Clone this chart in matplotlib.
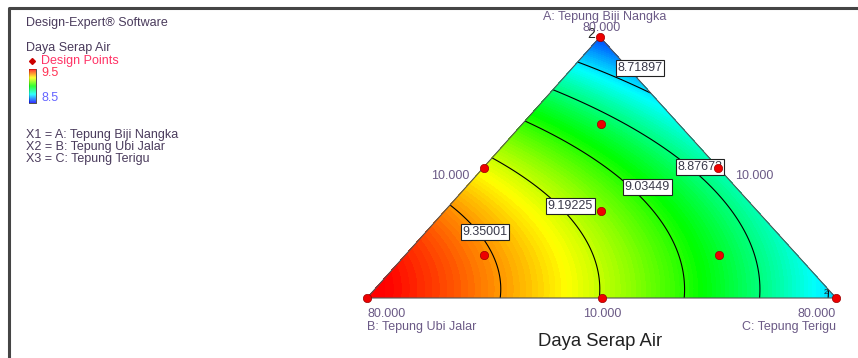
import matplotlib
matplotlib.use("Agg")
import matplotlib.pyplot as plt
import matplotlib.tri as mtri
from matplotlib.colors import LinearSegmentedColormap
import numpy as np

plt.rcParams['font.family'] = ['Liberation Sans', 'DejaVu Sans']

# component ranges (actual units)
low = 10.0
span = 70.0

# fitted Scheffe quadratic (pseudo components)
coef_lin = [8.562, 9.517, 8.700]      # A, B, C
coef_int = [0.756, 0.754, 0.320]      # AB, AC, BC

levels = [8.71897, 8.87673, 9.03449, 9.19225, 9.35001]
level_pos = [(640, 68), (700, 167), (647, 187), (570, 206), (485, 232)]

# design points (actual units)
pts_A = [80, 10, 10, 45, 45, 10, 33.33, 56.67, 21.67, 21.67]
pts_B = [10, 80, 10, 45, 10, 45, 33.33, 21.67, 56.67, 21.67]
pts_C = [10, 10, 80, 10, 45, 45, 33.33, 21.67, 21.67, 56.67]

# triangle corners in pixel space
TOP = (600, 37)
LEFT = (367, 298)
RIGHT = (836, 298)

txt_dark = '#4a3b5c'
txt_tick = '#6b5a86'
fs = 9


def to_px(a, b, c):
    x = a * TOP[0] + b * LEFT[0] + c * RIGHT[0]
    y = a * TOP[1] + b * LEFT[1] + c * RIGHT[1]
    return x, y


def model(a, b, c):
    return (coef_lin[0] * a + coef_lin[1] * b + coef_lin[2] * c
            + coef_int[0] * a * b + coef_int[1] * a * c + coef_int[2] * b * c)


cmap = LinearSegmentedColormap.from_list(
    'de', ['#0000ff', '#00ffff', '#00ff00', '#ffff00', '#ff0000'])

fig = plt.figure(figsize=(8.58, 3.58), dpi=100)
ax = fig.add_axes([0, 0, 1, 1])
ax.set_xlim(0, 858)
ax.set_ylim(358, 0)
ax.axis('off')

# grid over the simplex
n = 80
ga, gb = [], []
for i in range(n + 1):
    for j in range(n + 1 - i):
        ga.append(i / n)
        gb.append(j / n)
ga = np.array(ga)
gb = np.array(gb)
gc = 1 - ga - gb
gx, gy = to_px(ga, gb, gc)
z = model(ga, gb, gc)
tri = mtri.Triangulation(gx, gy)

ax.tricontourf(tri, z, levels=np.linspace(8.5, 9.6, 120), cmap=cmap,
               vmin=8.5, vmax=9.5)
ax.tricontour(tri, z, levels=levels, colors='black', linewidths=0.8)

# outline
ox = [TOP[0], LEFT[0], RIGHT[0], TOP[0]]
oy = [TOP[1], LEFT[1], RIGHT[1], TOP[1]]
ax.plot(ox, oy, color='#555555', lw=0.8)

for lv, (lx, ly) in zip(levels, level_pos):
    ax.text(lx, ly, '%.5f' % lv, fontsize=9, color='#3a3a4a',
            ha='center', va='center',
            bbox=dict(boxstyle='square,pad=0.15', fc='white', ec='#222222', lw=0.8))

pa = (np.array(pts_A) - low) / span
pb = (np.array(pts_B) - low) / span
pc = (np.array(pts_C) - low) / span
px, py = to_px(pa, pb, pc)
ax.scatter(px, py, s=36, color='#ee0000', edgecolors='#990000', linewidths=0.5,
           zorder=5, clip_on=False)

# replicate counts
ax.text(TOP[0] - 9, TOP[1] - 3, '2', fontsize=10, color='#222222',
        ha='center', va='center')
ax.text(RIGHT[0] - 10, RIGHT[1] - 5, '2', fontsize=6, color='#222222',
        ha='center', va='center')

# axis labels
ax.text(605, 17, 'A: Tepung Biji Nangka', fontsize=fs, color=txt_tick,
        ha='center', va='center')
ax.text(602, 28, '80.000', fontsize=fs, color=txt_tick, ha='center', va='center')
ax.text(450, 176, '10.000', fontsize=fs, color=txt_tick, ha='center', va='center')
ax.text(754, 176, '10.000', fontsize=fs, color=txt_tick, ha='center', va='center')
ax.text(367, 314, '80.000', fontsize=fs, color=txt_tick, ha='left', va='center')
ax.text(367, 327, 'B: Tepung Ubi Jalar', fontsize=fs, color=txt_tick,
        ha='left', va='center')
ax.text(602, 314, '10.000', fontsize=fs, color=txt_tick, ha='center', va='center')
ax.text(836, 314, '80.000', fontsize=fs, color=txt_tick, ha='right', va='center')
ax.text(836, 327, 'C: Tepung Terigu', fontsize=fs, color=txt_tick,
        ha='right', va='center')
ax.text(600, 342, 'Daya Serap Air', fontsize=13.3, color='#222222',
        ha='center', va='center')

# left info panel
ax.text(26, 23, 'Design-Expert® Software', fontsize=fs, color=txt_dark, va='center')
ax.text(26, 48, 'Daya Serap Air', fontsize=fs, color=txt_dark, va='center')
ax.plot([32], [61], marker='D', ms=3, color='#cc0000', linestyle='none')
ax.text(41, 61, 'Design Points', fontsize=fs, color='#ff3366', va='center')
grad = np.linspace(9.5, 8.5, 60).reshape(-1, 1)
ax.imshow(grad, cmap=cmap, vmin=8.5, vmax=9.5, extent=(29, 36, 103, 69),
          aspect='auto', alpha=0.8, zorder=3)
ax.plot([29, 36, 36, 29, 29], [69, 69, 103, 103, 69], color='#333333', lw=0.6)
ax.text(41, 73, '9.5', fontsize=fs, color='#ff3355', va='center')
ax.text(41, 98, '8.5', fontsize=fs, color='#6666ff', va='center')
ax.text(26, 135, 'X1 = A: Tepung Biji Nangka', fontsize=fs, color=txt_dark, va='center')
ax.text(26, 147, 'X2 = B: Tepung Ubi Jalar', fontsize=fs, color=txt_dark, va='center')
ax.text(26, 159, 'X3 = C: Tepung Terigu', fontsize=fs, color=txt_dark, va='center')

# frame
ax.plot([9, 9, 858], [358, 8, 8], color='#454545', lw=2.2, solid_capstyle='butt')

fig.savefig('out.png', dpi=100)
